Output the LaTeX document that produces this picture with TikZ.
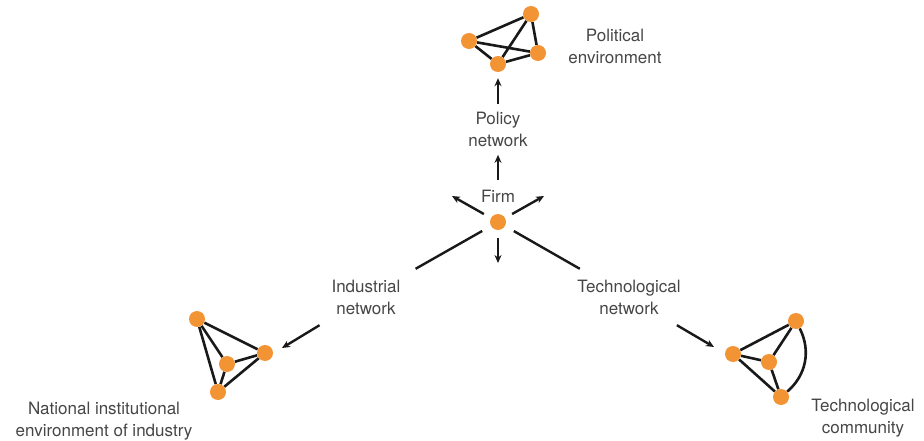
\documentclass[tikz,border=0pt]{standalone}
\usepackage{fontspec}
\setmainfont{TeX Gyre Heros}
\usetikzlibrary{arrows.meta,backgrounds}

\definecolor{dotorange}{RGB}{242,148,52}
\definecolor{textgray}{RGB}{70,70,70}

\tikzset{
    dot/.style      = {circle, fill=dotorange, minimum size=16pt, inner sep=0pt},
    tie/.style      = {line width=2.6pt, black!90},
    link/.style     = {line width=2.4pt, black!90},
    arrowline/.style= {link, -{Stealth[length=8pt,width=7pt]}},
    lbl/.style      = {text=textgray, align=center, font=\fontsize{17}{22}\selectfont},
}

\begin{document}
\begin{tikzpicture}[x=1pt, y=-1pt]
    \useasboundingbox (0,0) rectangle (924,441);

    % The firm in the middle
    \node[dot] (firm) at (498,222) {};
    \node[lbl] (firmlbl)   at (498,196) {Firm};
    \node[lbl] (policylbl) at (498,129) {Policy\\network};
    \node[lbl, minimum width=100pt, minimum height=56pt] (indlbl)  at (366,297) {Industrial\\network};
    \node[lbl, minimum width=100pt, minimum height=56pt] (techlbl) at (629,297) {Technological\\network};

    % Political environment
    \node[dot] (pe1) at (469,41) {};
    \node[dot] (pe2) at (531,14) {};
    \node[dot] (pe3) at (538,53) {};
    \node[dot] (pe4) at (498,64) {};
    \node[lbl] (pollbl) at (615,46) {Political\\environment};

    % National institutional environment of industry
    \node[dot] (ni1) at (197,319) {};
    \node[dot] (ni2) at (265,353) {};
    \node[dot] (ni3) at (227,364) {};
    \node[dot] (ni4) at (218,392) {};
    \node[lbl] (natlbl) at (104,421) {National institutional\\environment of industry};

    % Technological community
    \node[dot] (tc1) at (796,321) {};
    \node[dot] (tc2) at (733,354) {};
    \node[dot] (tc3) at (769,362) {};
    \node[dot] (tc4) at (781,397) {};
    \node[lbl] (commlbl) at (863,418) {Technological\\community};

    % ties inside the three environments
    \begin{scope}[on background layer]
        \foreach \a/\b in {pe1/pe2, pe1/pe3, pe1/pe4, pe2/pe3, pe2/pe4, pe3/pe4,
                           ni1/ni2, ni1/ni3, ni1/ni4, ni2/ni3, ni2/ni4, ni3/ni4,
                           tc1/tc2, tc1/tc3, tc2/tc3, tc2/tc4, tc3/tc4}
            \draw[tie] (\a) -- (\b);
        \draw[tie] (tc1) to[bend left=38] (tc4);
    \end{scope}

    % free ends of the short arrows
    \coordinate (upleft)  at (452,196);
    \coordinate (upright) at (544,196);
    \coordinate (down)    at (498,263);
    \coordinate (indtip)  at (282,348);
    \coordinate (techtip) at (714,347);

    % arrows out of the firm
    \draw[arrowline, shorten <=6pt, shorten >=5pt] (firmlbl.north) -- (policylbl.south);
    \draw[arrowline, shorten <=4pt, shorten >=6pt] (policylbl.north) -- (pe4.south);
    \draw[arrowline, shorten <=8pt] (firm) -- (upleft);
    \draw[arrowline, shorten <=8pt] (firm) -- (upright);
    \draw[arrowline, shorten <=8pt] (firm) -- (down);

    \draw[link, shorten <=10pt] (firm) -- (indlbl);
    \draw[arrowline] (indlbl) -- (indtip);
    \draw[link, shorten <=10pt] (firm) -- (techlbl);
    \draw[arrowline] (techlbl) -- (techtip);
\end{tikzpicture}
\end{document}
